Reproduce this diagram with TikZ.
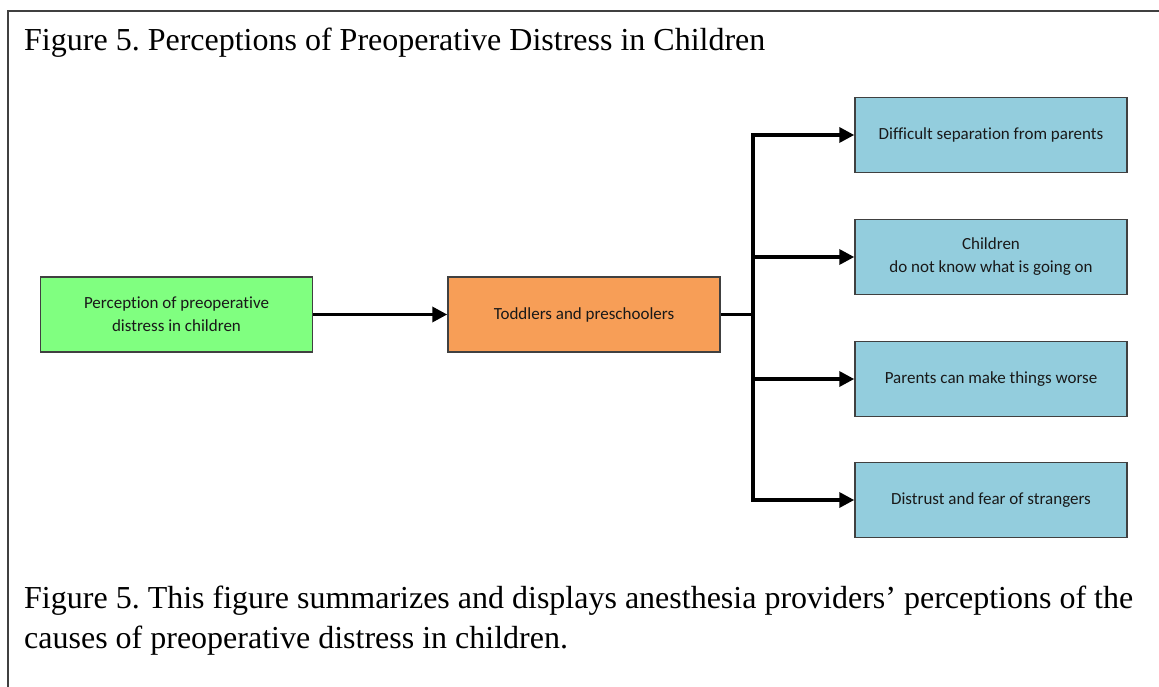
\documentclass[tikz,border=0pt]{standalone}
\usepackage{fontspec}
\setmainfont{Liberation Serif}
\newfontfamily\boxfont[Ligatures={NoCommon}]{Carlito}
\usetikzlibrary{arrows.meta}

\definecolor{boxgreen}{HTML}{80FF80}
\definecolor{boxorange}{HTML}{F79E57}
\definecolor{boxblue}{HTML}{93CDDD}
\definecolor{edgegray}{HTML}{404040}

\tikzset{
  databox/.style={draw=edgegray, line width=1.5pt, minimum width=272pt, minimum height=75pt,
    inner sep=0pt, align=center, text=black!90, font=\boxfont\fontsize{17}{23}\selectfont},
  flow/.style={line width=3.5pt, -{Triangle[length=15pt,width=15pt]}},
  plain/.style={line width=3.5pt},
  figtext/.style={anchor=base west, inner sep=0pt, font=\fontsize{32}{40}\selectfont}
}

\begin{document}
\frenchspacing
\begin{tikzpicture}[x=1pt,y=-1pt]
\useasboundingbox (0,0) rectangle (1159,687);
\fill[white] (0,0) rectangle (1159,687);
\draw[edgegray, line width=2pt] (8,687) -- (8,11) -- (1159,11);

\node[figtext] (title) at (24,51) {Figure 5. Perceptions of Preoperative Distress in Children};

\node[databox, fill=boxgreen] (perc) at (176.5,314.5) {Perception of preoperative\\distress in children};
\node[databox, fill=boxorange] (tod) at (584,314.5) {Toddlers and preschoolers};

\node[databox, fill=boxblue] (sep) at (991,135) {Difficult separation from parents};
\node[databox, fill=boxblue] (know) at (991,257) {Children\\do not know what is going on};
\node[databox, fill=boxblue] (worse) at (991,379) {Parents can make things worse};
\node[databox, fill=boxblue] (fear) at (991,500) {Distrust and fear of strangers};

\coordinate (split) at (753,314.5);

\draw[flow] (perc) -- (tod);
\draw[plain] (tod.east) -- (split);
\draw[flow] (split) |- (sep.west);
\draw[flow] (split) |- (know.west);
\draw[flow] (split) |- (worse.west);
\draw[flow] (split) |- (fear.west);

\node[figtext] (cap1) at (24,608) {Figure 5. This figure summarizes and displays anesthesia providers’ perceptions of the};
\node[figtext] (cap2) at (24,648) {causes of preoperative distress in children.};

\end{tikzpicture}
\end{document}
